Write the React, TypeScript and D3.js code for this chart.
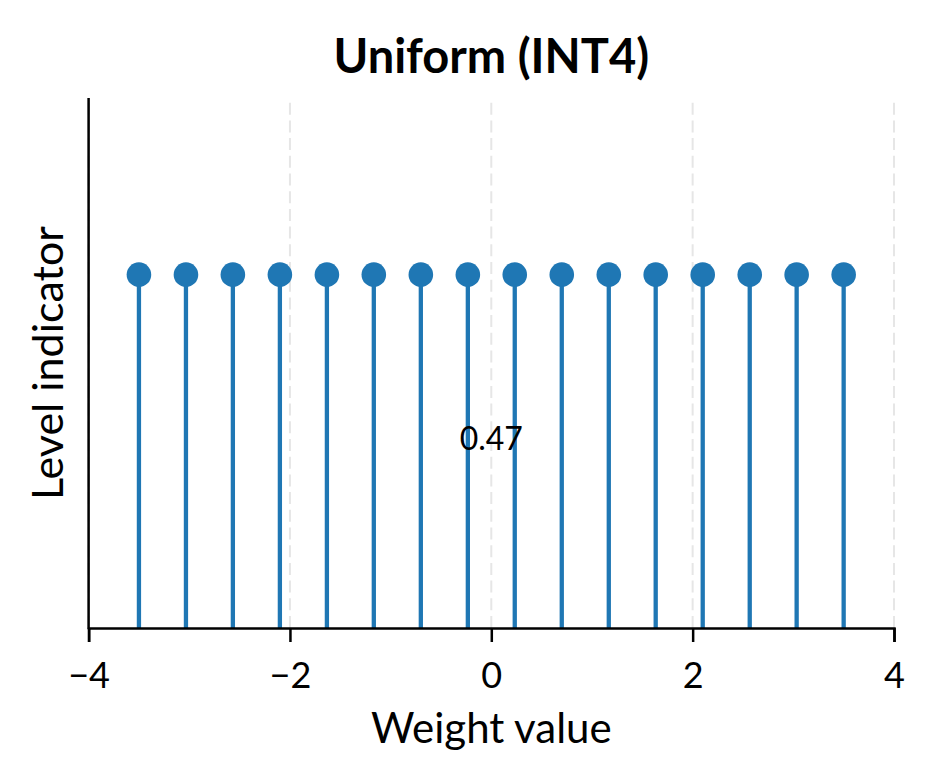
import React, { useEffect, useRef } from 'react';
import * as d3 from 'd3';

// quantization levels (16 for INT4), all drawn at height 1
const levels = [
  -3.5, -3.033, -2.567, -2.1, -1.633, -1.167, -0.7, -0.233,
  0.233, 0.7, 1.167, 1.633, 2.1, 2.567, 3.033, 3.5,
];
const stemHeight = 1;
const stepLabel = '0.47';
const xTicks = [-4, -2, 0, 2, 4];
const gridTicks = [-4, -2, 0, 2, 4];
const xDomain = [-4, 4];
const yDomain = [0, 1.5];

const FONT = 'Lato, "Noto Sans", sans-serif';

const App: React.FC = () => {
  const svgRef = useRef<SVGSVGElement>(null);

  useEffect(() => {
    if (!svgRef.current) return;
    const margin = { top: 98, left: 88.6 };
    const innerW = 894 - margin.left;
    const innerH = 628 - margin.top;

    const svg = d3.select(svgRef.current);
    svg.selectAll('*').remove();

    const g = svg
      .append('g')
      .attr('transform', `translate(${margin.left},${margin.top})`);

    const x = d3.scaleLinear().domain(xDomain).range([0, innerW]);
    const y = d3.scaleLinear().domain(yDomain).range([innerH, 0]);

    // Grid (dashed, light)
    g.append('g')
      .selectAll('line')
      .data(gridTicks)
      .enter()
      .append('line')
      .attr('x1', d => x(d))
      .attr('x2', d => x(d))
      .attr('y1', innerH)
      .attr('y2', 0)
      .attr('stroke', '#e6e6e6')
      .attr('stroke-width', 2)
      .attr('stroke-dasharray', '12,5.7');

    // Stems
    g.append('g')
      .selectAll('line')
      .data(levels)
      .enter()
      .append('line')
      .attr('x1', d => x(d))
      .attr('x2', d => x(d))
      .attr('y1', y(0))
      .attr('y2', y(stemHeight))
      .attr('stroke', '#1f77b4')
      .attr('stroke-width', 4.3);

    // Markers
    g.append('g')
      .selectAll('circle')
      .data(levels)
      .enter()
      .append('circle')
      .attr('cx', d => x(d))
      .attr('cy', y(stemHeight))
      .attr('r', 12.3)
      .attr('fill', '#1f77b4');

    // Step annotation
    g.append('text')
      .attr('x', x(0))
      .attr('y', y(0.5) - 1)
      .attr('text-anchor', 'middle')
      .style('font-family', FONT)
      .style('font-size', '32px')
      .style('fill', '#000')
      .text(stepLabel);

    // X axis
    const xAxis = g.append('g')
      .attr('transform', `translate(0,${innerH})`)
      .call(
        d3.axisBottom(x)
          .tickValues(xTicks)
          .tickSize(14)
          .tickPadding(20)
          .tickFormat(d => d3.format('')(d as number).replace('-', '\u2212'))
      );
    xAxis.select('.domain').attr('stroke', '#000').attr('stroke-width', 2.5);
    xAxis.selectAll('.tick line').attr('stroke', '#000').attr('stroke-width', 2.5);
    xAxis.selectAll('.tick text')
      .style('font-family', FONT)
      .style('font-size', '36px')
      .attr('fill', '#000');

    // Left spine
    g.append('line')
      .attr('x1', 0)
      .attr('x2', 0)
      .attr('y1', 0)
      .attr('y2', innerH + 1.25)
      .attr('stroke', '#000')
      .attr('stroke-width', 2.5);

    // Titles
    svg.append('text')
      .attr('x', margin.left + innerW / 2)
      .attr('y', 73)
      .attr('text-anchor', 'middle')
      .style('font-family', FONT)
      .style('font-size', '47px')
      .style('font-weight', 'bold')
      .text('Uniform (INT4)');

    svg.append('text')
      .attr('x', margin.left + innerW / 2)
      .attr('y', 743)
      .attr('text-anchor', 'middle')
      .style('font-family', FONT)
      .style('font-size', '42px')
      .text('Weight value');

    svg.append('text')
      .attr('transform', 'rotate(-90)')
      .attr('x', -(margin.top + innerH / 2))
      .attr('y', 63)
      .attr('text-anchor', 'middle')
      .style('font-family', FONT)
      .style('font-size', '43px')
      .text('Level indicator');
  }, []);

  return (
    <>
      <style>{`body{margin:0;background:#fff}`}</style>
      <svg ref={svgRef} width={934} height={784} viewBox="0 0 934 784" style={{ display: 'block' }} />
    </>
  );
};

export default App;
